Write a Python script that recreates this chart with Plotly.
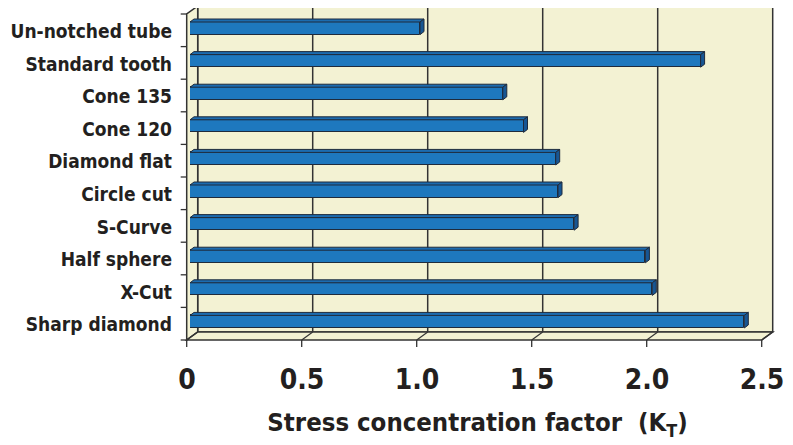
import plotly.graph_objects as go

categories = ["Un-notched tube", "Standard tooth", "Cone 135", "Cone 120", "Diamond flat",
              "Circle cut", "S-Curve", "Half sphere", "X-Cut", "Sharp diamond"]
kt_values = [1.00, 2.22, 1.36, 1.45, 1.59, 1.60, 1.67, 1.98, 2.01, 2.41]
x_ticks = [0, 0.5, 1.0, 1.5, 2.0, 2.5]
x_tick_labels = ["0", "0.5", "1.0", "1.5", "2.0", "2.5"]
x_title = "Stress concentration factor  (K<sub>T</sub>)"

# the page body has an 8px margin, so the figure is sized to fill the rest
W, H = 785, 437
ML, MR, MT, MB = 182, 28, 4, 107
PW, PH = W - ML - MR, H - MT - MB
XMAX = 2.5
N = len(categories)

FONT = "DejaVu Sans Condensed, Liberation Sans Narrow, Arial Narrow, sans-serif"
TXT = "#231f20"
WALL = "#f3f2d3"
EDGE = "#333333"
BAR = "#1e78be"
BAR_TOP = "#1c6cb0"
BAR_SIDE = "#175693"
BAR_LINE = "#1f2b3c"

FDX, FDY = -3.3 / PW, -2.0 / PH
BDX, BDY = 7.7 / PW, 6.0 / PH

def xp(v):
    return v / XMAX

fig = go.Figure()

bar_w = 0.386
fig.add_trace(go.Bar(
    x=kt_values, y=list(range(N)), orientation="h", width=bar_w,
    marker=dict(color=BAR, line=dict(color=BAR_LINE, width=1)),
    hoverinfo="x+text", hovertext=categories,
))

shapes = []
shapes.append(dict(type="rect", xref="paper", yref="paper", layer="below",
                   x0=BDX, x1=1 + BDX, y0=BDY, y1=1 + BDY,
                   fillcolor=WALL, line=dict(color=EDGE, width=1.5)))
shapes.append(dict(type="path", xref="paper", yref="paper", layer="below",
                   path=f"M{FDX},{FDY} L{FDX},{1+FDY} L{BDX},{1+BDY} L{BDX},{BDY} Z",
                   fillcolor=WALL, line=dict(color=EDGE, width=1.5)))
shapes.append(dict(type="path", xref="paper", yref="paper", layer="below",
                   path=f"M{FDX},{FDY} L{1+FDX},{FDY} L{1+BDX},{BDY} L{BDX},{BDY} Z",
                   fillcolor=WALL, line=dict(color=EDGE, width=1.5)))
for v in x_ticks:
    if 0 < v < XMAX:
        shapes.append(dict(type="line", xref="paper", yref="paper", layer="below",
                           x0=xp(v) + BDX, x1=xp(v) + BDX, y0=BDY, y1=1 + BDY,
                           line=dict(color=EDGE, width=1.5)))
    shapes.append(dict(type="line", xref="paper", yref="paper", layer="below",
                       x0=xp(v) + FDX, x1=xp(v) + BDX, y0=FDY, y1=BDY,
                       line=dict(color=EDGE, width=1.2)))
    shapes.append(dict(type="line", xref="paper", yref="paper", layer="below",
                       x0=xp(v) + FDX, x1=xp(v) + FDX, y0=FDY, y1=FDY - 7.0 / PH,
                       line=dict(color=EDGE, width=1.3)))
for k in range(N + 1):
    yy = 1 - k / N + FDY
    shapes.append(dict(type="line", xref="paper", yref="paper", layer="below",
                       x0=FDX - 6.0 / PW, x1=FDX, y0=yy, y1=yy,
                       line=dict(color=EDGE, width=1.3)))

ddx = 4.0 * XMAX / PW
ddy = 3.0 * N / PH
for i, v in enumerate(kt_values):
    top = i - bar_w / 2
    bot = i + bar_w / 2
    shapes.append(dict(type="path", xref="x", yref="y", layer="above",
                       path=f"M0,{top} L{ddx},{top-ddy} L{v+ddx},{top-ddy} L{v},{top} Z",
                       fillcolor=BAR_TOP, line=dict(color=BAR_LINE, width=1)))
    shapes.append(dict(type="path", xref="x", yref="y", layer="above",
                       path=f"M{v},{top} L{v+ddx},{top-ddy} L{v+ddx},{bot-ddy} L{v},{bot} Z",
                       fillcolor=BAR_SIDE, line=dict(color=BAR_LINE, width=1)))

fig.update_layout(
    width=W, height=H,
    margin=dict(l=ML, r=MR, t=MT, b=MB, pad=0),
    paper_bgcolor="white", plot_bgcolor="rgba(0,0,0,0)",
    showlegend=False, bargap=0,
    shapes=shapes,
    font=dict(family=FONT, color=TXT),
    xaxis=dict(range=[0, XMAX], tickvals=x_ticks, ticktext=x_tick_labels,
               showgrid=False, zeroline=False, showline=False, ticks="",
               automargin=False,
               tickfont=dict(family=FONT, size=28, color=TXT, weight="bold"),
               ticklabelstandoff=22, ticklabelshift=-3,
               title=dict(text=x_title, standoff=18,
                          font=dict(family=FONT, size=25.5, color=TXT, weight="bold")),
               fixedrange=True),
    yaxis=dict(range=[N - 0.5, -0.5], tickvals=list(range(N)), ticktext=categories,
               showgrid=False, zeroline=False, showline=False, ticks="",
               automargin=False,
               tickfont=dict(family=FONT, size=19, color=TXT, weight="bold"),
               ticklabelstandoff=17, ticklabelshift=-3, fixedrange=True),
)

fig.write_html("out.html")
